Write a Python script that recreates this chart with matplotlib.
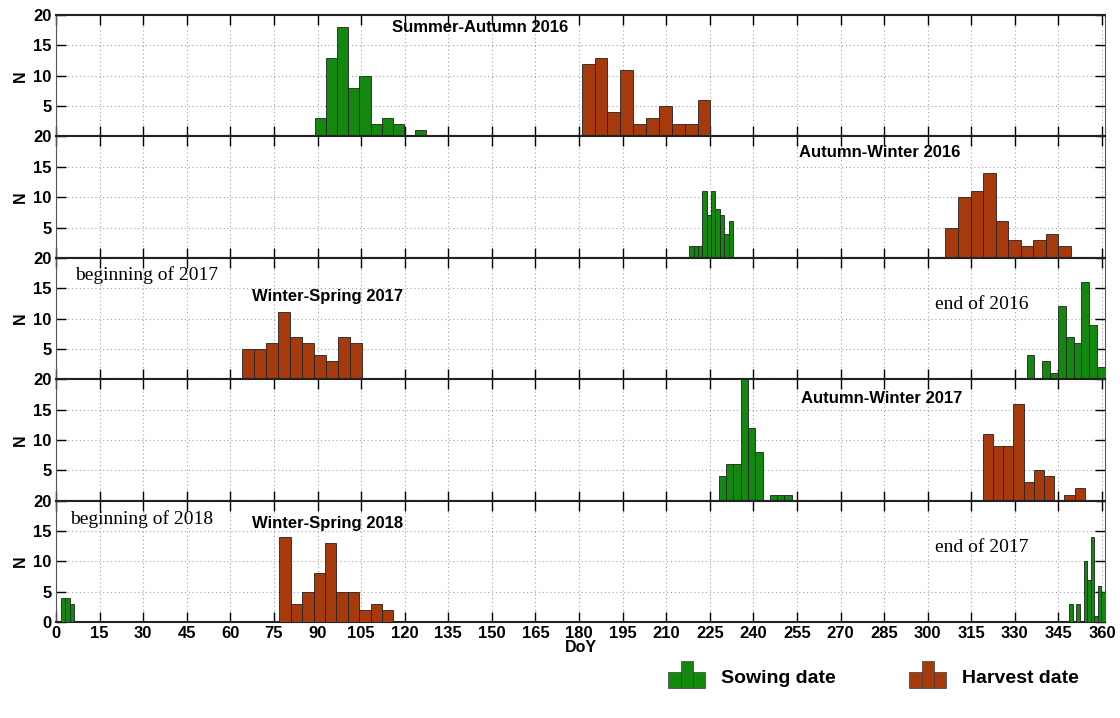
import numpy as np
import matplotlib
matplotlib.use("Agg")
import matplotlib.pyplot as plt
from matplotlib.patches import Rectangle
from matplotlib.legend_handler import HandlerBase

SOW_COLOR = "#13880f"
HARV_COLOR = "#a63a0c"
EDGE = "#222222"

# histograms: (bin start DoY, bin width, counts)
sow_sa16 = (89.1, 3.83, [3, 13, 18, 8, 10, 2, 3, 2, 0, 1])
harv_sa16 = (180.9, 4.43, [12, 13, 4, 11, 2, 3, 5, 2, 2, 6])

sow_aw16 = (217.9, 1.51, [2, 2, 2, 11, 7, 11, 8, 7, 4, 6])
harv_aw16 = (306.1, 4.31, [5, 10, 11, 14, 6, 3, 2, 3, 4, 2])

harv_ws17 = (64.1, 4.12, [5, 5, 6, 11, 7, 6, 4, 3, 7, 6])
sow_ws17 = (334.0, 2.70, [4, 0, 3, 1, 12, 7, 6, 16, 9, 2])

sow_aw17 = (228.1, 2.51, [4, 6, 6, 20, 12, 8, 0, 1, 1, 1])
harv_aw17 = (318.9, 3.52, [11, 9, 9, 16, 3, 5, 4, 0, 1, 2])

sow_ws18_begin = (1.7, 1.55, [4, 4, 3])
harv_ws18 = (76.9, 3.92, [14, 3, 5, 8, 13, 5, 5, 2, 3, 2])
sow_ws18_end = (348.7, 1.23, [3, 0, 3, 0, 10, 7, 14, 1, 6, 5])

PANELS = [
    [(sow_sa16, SOW_COLOR), (harv_sa16, HARV_COLOR)],
    [(sow_aw16, SOW_COLOR), (harv_aw16, HARV_COLOR)],
    [(harv_ws17, HARV_COLOR), (sow_ws17, SOW_COLOR)],
    [(sow_aw17, SOW_COLOR), (harv_aw17, HARV_COLOR)],
    [(sow_ws18_begin, SOW_COLOR), (harv_ws18, HARV_COLOR), (sow_ws18_end, SOW_COLOR)],
]

# (panel, text, x DoY, y N, style)
LABELS = [
    (0, "Summer-Autumn 2016", 146, 18.0, "title"),
    (1, "Autumn-Winter 2016", 283.5, 17.4, "title"),
    (2, "beginning of 2017", 6.5, 17.1, "note"),
    (2, "Winter-Spring 2017", 67.5, 13.7, "title_left"),
    (2, "end of 2016", 302.5, 12.3, "note"),
    (3, "Autumn-Winter 2017", 284.3, 16.9, "title"),
    (4, "beginning of 2018", 4.8, 16.9, "note"),
    (4, "Winter-Spring 2018", 67.3, 16.3, "title_left"),
    (4, "end of 2017", 302.5, 12.3, "note"),
]

XTICKS = np.arange(0, 361, 15)
YTICKS = [0, 5, 10, 15, 20]


class HistIcon(HandlerBase):
    # three-bar histogram glyph used in the legend
    def create_artists(self, legend, orig_handle, xdescent, ydescent,
                       width, height, fontsize, trans):
        fc = orig_handle.get_facecolor()
        w = width / 3
        out = []
        for i, h in enumerate([0.6, 1.0, 0.6]):
            r = Rectangle((-xdescent + i * w, -ydescent - 2), w, height * h * 1.5,
                          facecolor=fc, edgecolor="#3a3a3a", lw=0.5, transform=trans)
            out.append(r)
        return out


def draw_hist(ax, spec, color):
    start, width, counts = spec
    lefts = start + width * np.arange(len(counts))
    ax.bar(lefts, counts, width=width, align="edge", color=color,
           edgecolor=EDGE, linewidth=0.6, zorder=3)


def main():
    plt.rcParams["font.family"] = ["Liberation Sans", "DejaVu Sans"]
    fig = plt.figure(figsize=(11.2, 7.18), dpi=100)
    gs = fig.add_gridspec(5, 1, left=0.05, right=0.9866, top=0.979,
                          bottom=0.1337, hspace=0)

    for i, series in enumerate(PANELS):
        ax = fig.add_subplot(gs[i, 0])
        for spec, color in series:
            draw_hist(ax, spec, color)
        ax.set_xlim(0, 361)
        ax.set_ylim(0, 20)
        ax.set_xticks(XTICKS)
        ax.set_yticks(YTICKS)
        if i < 4:
            ax.set_yticklabels(["", "5", "10", "15", "20"])
            ax.set_xticklabels([])
        else:
            ax.set_xlabel("DoY", fontsize=11.5, fontweight="bold", labelpad=-1)
        ax.grid(True, linestyle=(0, (1, 2.5)), color="#a0a0a0", lw=0.8, zorder=0)
        ax.tick_params(direction="in", top=True, right=True, length=7,
                       width=1.0, labelsize=12, pad=3)
        for lab in ax.get_xticklabels() + ax.get_yticklabels():
            lab.set_fontweight("bold")
        for side in ("top", "bottom"):
            ax.spines[side].set_linewidth(1.5)
            ax.spines[side].set_color("#222222")
        for side in ("left", "right"):
            ax.spines[side].set_linewidth(0.8)
            ax.spines[side].set_color("#555555")
        ax.set_ylabel("N", fontsize=11.5, fontweight="bold", labelpad=4)

        for p, text, x, y, style in LABELS:
            if p != i:
                continue
            if style == "note":
                ax.text(x, y, text, fontsize=14, family="Liberation Serif",
                        ha="left", va="center", zorder=5)
            else:
                ax.text(x, y, text, fontsize=12, fontweight="bold",
                        ha="center" if style == "title" else "left",
                        va="center", zorder=5)

    handles = [Rectangle((0, 0), 1, 1, facecolor=SOW_COLOR, label="Sowing date"),
               Rectangle((0, 0), 1, 1, facecolor=HARV_COLOR, label="Harvest date")]
    fig.legend(handles=handles, handler_map={Rectangle: HistIcon()},
               loc="center", bbox_to_anchor=(0.78, 0.057), ncol=2,
               frameon=False, prop={"size": 14, "weight": "bold"},
               handlelength=1.9, handleheight=1.0, handletextpad=0.8,
               columnspacing=3.8)

    fig.savefig("out.png", dpi=100)


if __name__ == "__main__":
    main()
